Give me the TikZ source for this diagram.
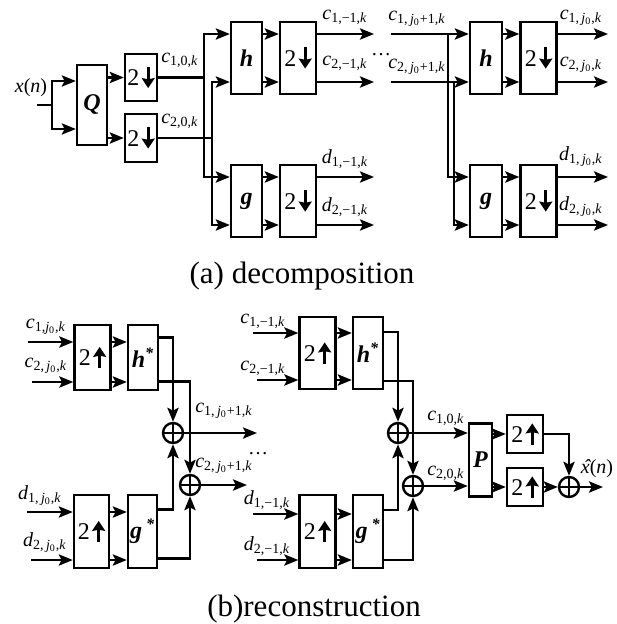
\documentclass[tikz,border=0pt]{standalone}
\usepackage{fontspec}
\setmainfont{Liberation Serif}
\usetikzlibrary{arrows.meta}
\newcommand{\dnsym}{2\hspace{1.2pt}\tikz[baseline=0pt]\draw[line width=1.5pt,-{Stealth[length=5pt,width=6.5pt,inset=0.6pt]}] (0,9.4pt) -- (0,-1.2pt);}
\newcommand{\upsym}{2\hspace{1.2pt}\tikz[baseline=0pt]\draw[line width=1.5pt,-{Stealth[length=5pt,width=6.5pt,inset=0.6pt]}] (0,-1.2pt) -- (0,9.4pt);}
\newcommand{\sig}[2]{\textit{#1}\textsubscript{#2}}
\newcommand{\jz}{\textit{j}\textsubscript{0}}
\newcommand{\xhat}{\textit{\rlap{\kern1.3pt ˆ}x}}
\tikzset{
  filt/.style={draw,line width=1.2pt,inner sep=0pt,minimum width=15.5pt,
    minimum height=36pt,font=\fontsize{12}{14}\selectfont\bfseries\itshape},
  samp/.style={draw,line width=1.2pt,inner sep=0pt,minimum width=18pt,
    minimum height=36pt,font=\fontsize{12}{14}\selectfont},
  adder/.style={circle,draw,line width=1.2pt,inner sep=0pt,minimum size=10pt,
    path picture={\draw[line width=1.2pt]
      (path picture bounding box.north) -- (path picture bounding box.south)
      (path picture bounding box.west) -- (path picture bounding box.east);}},
  sig/.style={inner sep=0pt,font=\fontsize{10}{12}\selectfont},
  capt/.style={inner sep=0pt,font=\fontsize{15.5}{18}\selectfont},
  arrow/.style={-{Stealth[length=7pt,width=5.6pt,inset=1.4pt]},line width=1.2pt},
  wire/.style={line width=1.2pt}
}

\begin{document}
\begin{tikzpicture}[x=0.5pt,y=-0.5pt]
\useasboundingbox (0,0) rectangle (616,624);
% free ends of the signal lines
\foreach \n/\x/\y in {xin/37/105,xs/52/105,e1/374/34,e2/374/82,e3/374/177,e4/374/225,
    s1/391/34,s2/391/82,f1/608/34,f2/608/82,f3/608/177,f4/608/225,
    i1/28/342,i2/32/382,i3/27/512,i4/31/560,i5/253/333,i6/257/380,i7/253/514,i8/257/560,
    o1/257/433,o2/247/485,xo/603/487}
  \coordinate (\n) at (\x,\y);

% (a) decomposition
\node[filt,minimum width=15pt,minimum height=40pt] (Q) at (92,105) {Q};
\node[samp,minimum width=16pt,minimum height=23.5pt] (ds1) at (141,77.5) {\dnsym};
\node[samp,minimum width=16pt,minimum height=24pt] (ds2) at (141,138) {\dnsym};
\node[filt] (h1) at (246.5,58) {h};
\node[samp] (dh1) at (298,58) {\dnsym};
\node[filt] (g1) at (246.5,201) {g};
\node[samp] (dg1) at (298,201) {\dnsym};
\node[filt,minimum width=16pt] (h2) at (486,58) {h};
\node[samp] (dh2) at (538.5,58) {\dnsym};
\node[filt,minimum width=16pt] (g2) at (486,201) {g};
\node[samp] (dg2) at (538.5,201) {\dnsym};

\draw[wire] (xin) -- (xs);
\draw[arrow] (xs) |- ([yshift=12pt]Q.west);
\draw[arrow] (xs) |- ([yshift=-12pt]Q.west);
\draw[arrow] (Q.east |- ds1) -- (ds1);
\draw[arrow] (Q.east |- ds2) -- (ds2);
\draw[arrow] (ds1.east) -| (204,34) -- ([yshift=12pt]h1.west);
\draw[arrow] (ds1.east) -| (204,177) -- ([yshift=12pt]g1.west);
\draw[arrow] (ds2.east) -| (212,82) -- ([yshift=-12pt]h1.west);
\draw[arrow] (ds2.east) -| (212,225) -- ([yshift=-12pt]g1.west);
\draw[arrow] (s1) -- ([yshift=12pt]h2.west);
\draw[arrow] (s1) -| (448,177) -- ([yshift=12pt]g2.west);
\draw[arrow] (s2) -- ([yshift=-12pt]h2.west);
\draw[arrow] (s2) -| (454,225) -- ([yshift=-12pt]g2.west);
\foreach \b/\c/\p/\q in {h1/dh1/e1/e2,g1/dg1/e3/e4,h2/dh2/f1/f2,g2/dg2/f3/f4} {
  \foreach \s in {12pt,-12pt}
    \draw[arrow] ([yshift=\s]\b.east) -- ([yshift=\s]\c.west);
  \draw[arrow] ([yshift=12pt]\c.east) -- (\p);
  \draw[arrow] ([yshift=-12pt]\c.east) -- (\q);
}

\node[sig] (lx) at (31,88) {\textit{x}(\textit{n})};
\node[sig] (lc10) at (180,60) {\sig{c}{1,0,\textit{k}}};
\node[sig] (lc20) at (180,121) {\sig{c}{2,0,\textit{k}}};
\node[sig] (lc1m) at (345,17) {\sig{c}{1,−1,\textit{k}}};
\node[sig] (lc2m) at (345,63) {\sig{c}{2,−1,\textit{k}}};
\node[sig] (ld1m) at (345,159) {\sig{d}{1,−1,\textit{k}}};
\node[sig] (ld2m) at (345,207) {\sig{d}{2,−1,\textit{k}}};
\node[sig] (ldots) at (381,55) {…};
\node[sig] (lc1p) at (417,19) {\sig{c}{1,\,\jz+1,\textit{k}}};
\node[sig] (lc2p) at (417,67) {\sig{c}{2,\,\jz+1,\textit{k}}};
\node[sig] (lc1j) at (581,18) {\sig{c}{1,\,\jz,\textit{k}}};
\node[sig] (lc2j) at (581,65) {\sig{c}{2,\,\jz,\textit{k}}};
\node[sig] (ld1j) at (581,157) {\sig{d}{1,\,\jz,\textit{k}}};
\node[sig] (ld2j) at (581,207) {\sig{d}{2,\,\jz,\textit{k}}};
\node[capt] (capa) at (302,276) {(a) decomposition};

% (b) reconstruction
\node[samp,minimum height=32.5pt] (u1) at (92.5,357.5) {\upsym};
\node[filt,minimum width=15pt,minimum height=32.5pt] (hs1) at (143,357.5) {h\textsuperscript{*}};
\node[samp,minimum width=17.5pt,minimum height=36.5pt] (u2) at (91.5,531.5) {\upsym};
\node[filt,minimum width=14.5pt,minimum height=36.5pt] (gs1) at (142.5,531.5) {g\,\textsuperscript{*}};
\node[adder] (a1) at (173,433) {};
\node[adder] (a2) at (190,485) {};
\node[samp] (u3) at (317.5,353) {\upsym};
\node[filt,minimum width=15pt] (hs2) at (368,353) {h\textsuperscript{*}};
\node[samp,minimum height=36.5pt] (u4) at (317.5,531.5) {\upsym};
\node[filt,minimum width=15pt,minimum height=36.5pt] (gs2) at (368,531.5) {g\,\textsuperscript{*}};
\node[adder] (a3) at (398,433) {};
\node[adder] (a4) at (413,486) {};
\node[filt,minimum width=11.5pt,minimum height=36.5pt] (P) at (480.5,460) {P};
\node[samp,minimum height=19pt] (pu1) at (525,434) {\upsym};
\node[samp,minimum height=19pt] (pu2) at (525,487) {\upsym};
\node[adder] (a5) at (569,487) {};

\foreach \i/\a/\b in {i1/u1/hs1,i2/u1/hs1,i3/u2/gs1,i4/u2/gs1,
    i5/u3/hs2,i6/u3/hs2,i7/u4/gs2,i8/u4/gs2} {
  \draw[arrow] (\i) -- (\a.west |- \i);
  \draw[arrow] (\a.east |- \i) -- (\b.west |- \i);
}
\draw[arrow] ([yshift=10pt]hs1.east) -| (a1.north);
\draw[arrow] ([yshift=-12pt]hs1.east) -| (a2.north);
\draw[arrow] ([yshift=11pt]gs1.east) -| (a1.south);
\draw[arrow] ([yshift=-13.5pt]gs1.east) -| (a2.south);
\draw[arrow] ([yshift=10.5pt]hs2.east) -| (a3.north);
\draw[arrow] ([yshift=-14pt]hs2.east) -| (a4.north);
\draw[arrow] ([yshift=10.75pt]gs2.east) -| (a3.south);
\draw[arrow] ([yshift=-14.25pt]gs2.east) -| (a4.south);
\draw[arrow] (a1) -- (o1);
\draw[arrow] (a2) -- (o2);
\draw[arrow] (a3) -- (P.west |- a3);
\draw[arrow] (a4) -- (P.west |- a4);
\draw[arrow] (P.east |- pu1) -- (pu1);
\draw[arrow] (P.east |- pu2) -- (pu2);
\draw[arrow] (pu1.east) -| (a5.north);
\draw[arrow] (pu2) -- (a5);
\draw[arrow] (a5) -- (xo);

\node[sig] (rc1j) at (46,327) {\sig{c}{1,\jz,\textit{k}}};
\node[sig] (rc2j) at (46,366) {\sig{c}{2,\,\jz,\textit{k}}};
\node[sig] (rd1j) at (40,496) {\sig{d}{1,\,\jz,\textit{k}}};
\node[sig] (rd2j) at (45,543) {\sig{d}{2,\,\jz,\textit{k}}};
\node[sig] (rc1p) at (224,411) {\sig{c}{1,\,\jz+1,\textit{k}}};
\node[sig] (rc2p) at (224,466) {\sig{c}{2,\,\jz+1,\textit{k}}};
\node[sig] (rdots) at (258,454) {…};
\node[sig] (rc1m) at (263,321) {\sig{c}{1,−1,\textit{k}}};
\node[sig] (rc2m) at (263,368) {\sig{c}{2,−1,\textit{k}}};
\node[sig] (rd1m) at (267,500) {\sig{d}{1,−1,\textit{k}}};
\node[sig] (rd2m) at (267,546) {\sig{d}{2,−1,\textit{k}}};
\node[sig] (rc10) at (446,418) {\sig{c}{1,0,\textit{k}}};
\node[sig] (rc20) at (446,473) {\sig{c}{2,0,\textit{k}}};
\node[sig] (lxh) at (597,469) {\xhat(\textit{n})};
\node[capt] (capb) at (314,609) {(b)reconstruction};
\end{tikzpicture}
\end{document}
